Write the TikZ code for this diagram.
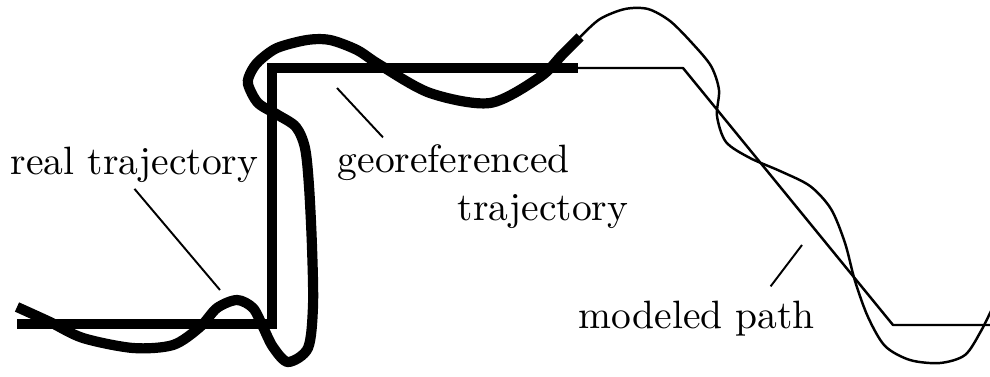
\documentclass[tikz,border=0pt]{standalone}
\usepackage{tikz}
\usetikzlibrary{positioning}

\begin{document}
\begin{tikzpicture}[
    lbl/.style={font=\normalsize, scale=2.25, inner sep=1.5pt, anchor=base west},
    georef/.style={line width=6pt, line join=miter},
    realthick/.style={line width=5.8pt},
    thinpath/.style={line width=1.4pt, line join=round},
    leader/.style={line width=1.1pt}
]
\useasboundingbox (0,0) rectangle (19.8,7.52);
\clip (0,0) rectangle (19.8,7.52);

% Modeled path
\draw[thinpath] (11.5,6.16) -- (13.66,6.16) -- (17.86,1.02) -- (20.2,1.02);

% Georeferenced trajectory
\draw[georef] (0.34,1.04) -- (5.44,1.04) -- (5.44,6.16) -- (11.56,6.16);

% Real trajectory (thin part)
\draw[thinpath] plot[smooth] coordinates {
    (10.80,5.98) (11.24,6.42) (11.60,6.78) (12.00,7.14) (12.50,7.34)
    (12.96,7.34) (13.40,7.10) (13.84,6.66) (14.22,6.20) (14.38,5.72)
    (14.34,5.20) (14.52,4.68) (15.00,4.36) (15.60,4.10) (16.20,3.80)
    (16.62,3.34) (16.90,2.66) (17.10,1.90) (17.36,1.18) (17.70,0.60)
    (18.20,0.32) (18.80,0.26) (19.30,0.42) (19.62,0.90) (19.90,1.46)
    (20.20,2.00)};

% Real trajectory (thick part)
\draw[realthick] plot[smooth] coordinates {
    (0.34,1.38) (1.00,1.08) (1.66,0.76) (2.66,0.56) (3.46,0.62)
    (4.00,0.98) (4.34,1.36) (4.74,1.52) (5.06,1.36) (5.26,0.98)
    (5.46,0.58) (5.76,0.28) (6.16,0.56) (6.26,1.40) (6.24,2.58)
    (6.18,3.80) (6.10,4.56) (5.92,4.98) (5.56,5.22) (5.16,5.46)
    (4.96,5.84) (5.02,6.08) (5.18,6.30) (5.54,6.56) (6.14,6.72)
    (6.60,6.72) (7.14,6.52) (7.60,6.22) (8.60,5.66) (9.80,5.46)
    (10.80,5.98) (11.24,6.42) (11.60,6.78)};

% Labels
\node[lbl] (realtxt) at (0.08,4.04) {real trajectory};
\node[lbl] (geotxt) at (6.62,4.08) {georeferenced};
\node[lbl] (trajtxt) at (9.02,3.12) {trajectory};
\node[lbl] (modtxt) at (11.44,0.96) {modeled path};

% Leaders
\coordinate (realpt) at (4.40,1.72);
\coordinate (geopt) at (6.74,5.76);
\coordinate (modpt) at (16.04,2.62);
\draw[leader] (realtxt.south) -- (realpt);
\draw[leader] ([xshift=1.04cm]geotxt.north west) -- (geopt);
\draw[leader] ([xshift=-1.02cm,yshift=0.15cm]modtxt.north east) -- (modpt);

\end{tikzpicture}
\end{document}
